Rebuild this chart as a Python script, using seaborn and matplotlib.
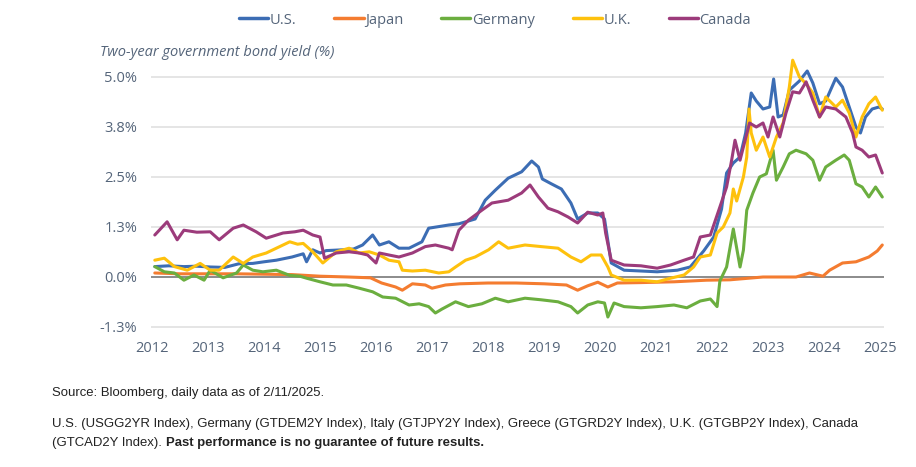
import numpy as np
import pandas as pd
import seaborn as sns
import matplotlib.pyplot as plt

# Two-year government bond yields (%)
countries = ['U.S.', 'Japan', 'Germany', 'U.K.', 'Canada']
colors = ['#3c6db4', '#f47c30', '#6bae3f', '#fec10d', '#9c3b7b']

us_t = [2012.05, 2012.3, 2012.57, 2012.8, 2013.04, 2013.3, 2013.55, 2013.8, 2014.0, 2014.22,
        2014.5, 2014.7, 2014.76, 2014.87, 2015.0, 2015.11, 2015.41, 2015.6, 2015.76, 2015.94,
        2016.06, 2016.23, 2016.41, 2016.59, 2016.82, 2016.94, 2017.12, 2017.3, 2017.48, 2017.65,
        2017.77, 2017.95, 2018.13, 2018.36, 2018.6, 2018.78, 2018.9, 2018.97, 2019.13, 2019.31,
        2019.48, 2019.6, 2019.78, 2019.96, 2020.08, 2020.2, 2020.43, 2020.73, 2021.02, 2021.38,
        2021.61, 2021.85, 2022.03, 2022.17, 2022.26, 2022.38, 2022.5, 2022.6, 2022.7, 2022.79,
        2022.91, 2023.03, 2023.1, 2023.18, 2023.27, 2023.38, 2023.56, 2023.7, 2023.8, 2023.92,
        2024.03, 2024.21, 2024.33, 2024.45, 2024.57, 2024.65, 2024.74, 2024.86, 2024.98, 2025.04]
us_y = [0.26, 0.28, 0.26, 0.27, 0.25, 0.24, 0.33, 0.34, 0.38, 0.42,
        0.5, 0.58, 0.38, 0.68, 0.6, 0.66, 0.68, 0.7, 0.8, 1.05,
        0.8, 0.88, 0.72, 0.72, 0.88, 1.22, 1.26, 1.3, 1.33, 1.4,
        1.45, 1.92, 2.17, 2.47, 2.63, 2.9, 2.75, 2.45, 2.33, 2.2,
        1.85, 1.45, 1.6, 1.6, 1.45, 0.35, 0.17, 0.15, 0.13, 0.17,
        0.25, 0.65, 1.0, 1.7, 2.6, 2.85, 3.0, 3.6, 4.6, 4.4,
        4.2, 4.25, 4.95, 4.0, 4.05, 4.67, 4.9, 5.15, 4.85, 4.33,
        4.4, 4.97, 4.75, 4.25, 3.75, 3.6, 4.0, 4.2, 4.25, 4.2]

jp_t = [2012.05, 2012.5, 2013.0, 2013.5, 2014.0, 2014.5, 2015.0, 2015.5, 2015.9, 2016.1,
        2016.35, 2016.47, 2016.65, 2016.88, 2017.0, 2017.24, 2017.5, 2018.0, 2018.5, 2019.0,
        2019.4, 2019.6, 2019.78, 2019.96, 2020.14, 2020.31, 2020.73, 2021.32, 2021.9, 2022.32,
        2022.91, 2023.5, 2023.74, 2023.98, 2024.1, 2024.33, 2024.57, 2024.8, 2024.95, 2025.04]
jp_y = [0.1, 0.08, 0.08, 0.08, 0.07, 0.06, 0.02, 0.0, -0.02, -0.15,
        -0.25, -0.33, -0.17, -0.2, -0.28, -0.2, -0.17, -0.15, -0.15, -0.17,
        -0.2, -0.33, -0.22, -0.13, -0.25, -0.15, -0.14, -0.12, -0.08, -0.07,
        0.0, 0.0, 0.1, 0.02, 0.17, 0.35, 0.38, 0.5, 0.65, 0.8]

de_t = [2012.05, 2012.22, 2012.4, 2012.57, 2012.75, 2012.93, 2013.04, 2013.27, 2013.51, 2013.63,
        2013.8, 2013.98, 2014.22, 2014.46, 2014.64, 2014.76, 2015.0, 2015.23, 2015.47, 2015.7,
        2015.94, 2016.12, 2016.35, 2016.59, 2016.77, 2016.94, 2017.06, 2017.18, 2017.42, 2017.65,
        2017.89, 2018.13, 2018.36, 2018.66, 2018.95, 2019.25, 2019.48, 2019.6, 2019.78, 2019.96,
        2020.08, 2020.14, 2020.25, 2020.43, 2020.73, 2021.02, 2021.32, 2021.55, 2021.79, 2021.97,
        2022.09, 2022.14, 2022.26, 2022.38, 2022.5, 2022.56, 2022.62, 2022.73, 2022.85, 2022.97,
        2023.09, 2023.15, 2023.27, 2023.38, 2023.5, 2023.68, 2023.8, 2023.92, 2024.03, 2024.21,
        2024.36, 2024.45, 2024.57, 2024.68, 2024.8, 2024.92, 2025.04]
de_y = [0.26, 0.13, 0.1, -0.08, 0.05, -0.08, 0.17, -0.02, 0.1, 0.3,
        0.17, 0.13, 0.17, 0.04, 0.02, -0.03, -0.12, -0.2, -0.2, -0.28,
        -0.37, -0.5, -0.53, -0.7, -0.67, -0.74, -0.9, -0.8, -0.62, -0.74,
        -0.67, -0.53, -0.62, -0.53, -0.57, -0.62, -0.74, -0.9, -0.7, -0.62,
        -0.65, -1.0, -0.65, -0.74, -0.77, -0.74, -0.7, -0.77, -0.6, -0.55,
        -0.74, -0.1, 0.25, 1.2, 0.25, 0.67, 1.67, 2.1, 2.5, 2.58,
        3.17, 2.42, 2.75, 3.08, 3.17, 3.08, 2.92, 2.42, 2.75, 2.92,
        3.05, 2.92, 2.33, 2.25, 2.0, 2.25, 2.0]

uk_t = [2012.05, 2012.22, 2012.4, 2012.63, 2012.86, 2013.04, 2013.2, 2013.45, 2013.63, 2013.8,
        2014.04, 2014.28, 2014.46, 2014.6, 2014.7, 2014.87, 2015.05, 2015.29, 2015.52, 2015.7,
        2015.88, 2016.06, 2016.23, 2016.41, 2016.47, 2016.65, 2016.88, 2017.12, 2017.3, 2017.42,
        2017.6, 2017.77, 2018.01, 2018.19, 2018.36, 2018.66, 2018.95, 2019.25, 2019.48, 2019.66,
        2019.84, 2020.02, 2020.14, 2020.2, 2020.43, 2020.73, 2021.02, 2021.26, 2021.5, 2021.67,
        2021.79, 2021.97, 2022.09, 2022.2, 2022.32, 2022.38, 2022.44, 2022.56, 2022.62, 2022.66,
        2022.7, 2022.79, 2022.91, 2023.03, 2023.15, 2023.27, 2023.38, 2023.44, 2023.56, 2023.68,
        2023.8, 2023.92, 2024.03, 2024.21, 2024.33, 2024.45, 2024.57, 2024.68, 2024.8, 2024.92,
        2025.04]
uk_y = [0.42, 0.47, 0.26, 0.17, 0.34, 0.17, 0.17, 0.5, 0.34, 0.5,
        0.6, 0.76, 0.88, 0.82, 0.84, 0.63, 0.35, 0.63, 0.72, 0.6,
        0.63, 0.55, 0.42, 0.38, 0.17, 0.15, 0.17, 0.1, 0.13, 0.25,
        0.42, 0.5, 0.68, 0.88, 0.72, 0.8, 0.76, 0.72, 0.5, 0.38,
        0.55, 0.55, 0.25, 0.05, -0.08, -0.08, -0.12, -0.03, 0.05, 0.25,
        0.5, 0.55, 1.1, 1.25, 1.6, 2.2, 1.9, 2.5, 3.0, 4.2,
        3.6, 3.17, 3.5, 3.0, 3.5, 3.85, 4.75, 5.42, 5.0, 4.83,
        4.6, 4.0, 4.5, 4.25, 4.42, 4.1, 3.5, 4.0, 4.33, 4.5,
        4.17]

ca_t = [2012.05, 2012.27, 2012.45, 2012.57, 2012.8, 2013.04, 2013.2, 2013.45, 2013.63, 2013.86,
        2014.04, 2014.34, 2014.55, 2014.7, 2014.87, 2015.0, 2015.08, 2015.29, 2015.52, 2015.7,
        2015.85, 2016.0, 2016.06, 2016.23, 2016.41, 2016.65, 2016.88, 2017.06, 2017.3, 2017.36,
        2017.48, 2017.65, 2017.89, 2018.07, 2018.36, 2018.6, 2018.75, 2018.9, 2019.07, 2019.25,
        2019.43, 2019.6, 2019.78, 2019.96, 2020.05, 2020.1, 2020.2, 2020.43, 2020.73, 2021.02,
        2021.26, 2021.5, 2021.67, 2021.79, 2021.97, 2022.14, 2022.26, 2022.35, 2022.41, 2022.5,
        2022.56, 2022.67, 2022.79, 2022.91, 2023.0, 2023.09, 2023.21, 2023.32, 2023.44, 2023.56,
        2023.68, 2023.8, 2023.92, 2024.03, 2024.21, 2024.39, 2024.51, 2024.57, 2024.68, 2024.8,
        2024.92, 2025.04]
ca_y = [1.05, 1.38, 0.93, 1.17, 1.12, 1.13, 0.93, 1.22, 1.3, 1.13,
        0.97, 1.1, 1.13, 1.17, 1.05, 1.0, 0.47, 0.6, 0.63, 0.6,
        0.55, 0.35, 0.6, 0.55, 0.5, 0.6, 0.76, 0.8, 0.72, 0.68,
        1.17, 1.42, 1.67, 1.85, 1.92, 2.1, 2.3, 2.0, 1.72, 1.63,
        1.5, 1.35, 1.62, 1.55, 1.6, 1.1, 0.42, 0.3, 0.28, 0.22,
        0.3, 0.42, 0.5, 1.0, 1.05, 1.75, 2.25, 2.92, 3.42, 2.92,
        3.25, 3.85, 3.75, 3.85, 3.5, 4.0, 3.5, 4.1, 4.63, 4.6,
        4.88, 4.42, 4.0, 4.25, 4.2, 4.0, 3.6, 3.25, 3.17, 3.0,
        3.05, 2.6]

year_ticks = list(range(2012, 2026))
ytick_values = [-1.25, 0.0, 1.25, 2.5, 3.75, 5.0]
ytick_labels = ['-1.3%', '0.0%', '1.3%', '2.5%', '3.8%', '5.0%']

frames = []
for name, t, y in zip(countries, [us_t, jp_t, de_t, uk_t, ca_t], [us_y, jp_y, de_y, uk_y, ca_y]):
    frames.append(pd.DataFrame({'Year': t, 'Yield': y, 'Country': name}))
data = pd.concat(frames, ignore_index=True)

sns.set_style('white')
plt.rcParams['font.family'] = ['Open Sans', 'DejaVu Sans']
text_color = '#55657a'

fig = plt.figure(figsize=(9.16, 4.67), dpi=100)
ax = fig.add_axes([151 / 916, 1 - 329 / 467, 733 / 916, 276 / 467])

sns.lineplot(data=data, x='Year', y='Yield', hue='Country', hue_order=countries,
             palette=dict(zip(countries, colors)), estimator=None, sort=False,
             linewidth=2.2, ax=ax)

ax.axhline(0, color='#8c8c8c', lw=1.4, zorder=1.5)
ax.set_xlim(2012 - 1 / 56.08, 2012 + 733 / 56.08)
ax.set_ylim(-1.3, 5.6)
ax.set_xticks(year_ticks)
ax.set_yticks(ytick_values)
ax.set_yticklabels(ytick_labels)
ax.yaxis.grid(True, color='#e3e3e3', lw=1.3)
ax.set_axisbelow(True)
for s in ax.spines.values():
    s.set_visible(False)
ax.tick_params(length=0, labelsize=10.5, colors=text_color)
ax.tick_params(axis='y', pad=10)
ax.tick_params(axis='x', pad=9)
ax.set_xlabel('')
ax.set_ylabel('')

handles, labels = ax.get_legend_handles_labels()
ax.get_legend().remove()
for h in handles:
    h.set_linewidth(2.5)
fig.legend(handles, labels, loc='center', bbox_to_anchor=(495 / 916, 1 - 20 / 467),
           ncol=5, frameon=False, fontsize=10.5, handlelength=2.0, handletextpad=0.1,
           columnspacing=2.6, labelcolor=text_color)

fig.text(100 / 916, 1 - 52 / 467, 'Two-year government bond yield (%)', style='italic',
         fontsize=10.5, color=text_color, va='center', ha='left')

# footer notes
foot = ['Liberation Sans', 'DejaVu Sans']
foot_size = 9.45
fig.text(52 / 916, 1 - 393 / 467, 'Source: Bloomberg, daily data as of 2/11/2025.',
         family=foot, fontsize=foot_size, color='#222222', va='center')
fig.text(52 / 916, 1 - 424 / 467,
         'U.S. (USGG2YR Index), Germany (GTDEM2Y Index), Italy (GTJPY2Y Index), '
         'Greece (GTGRD2Y Index), U.K. (GTGBP2Y Index), Canada',
         family=foot, fontsize=foot_size, color='#222222', va='center')
t3 = fig.text(52 / 916, 1 - 443 / 467, '(GTCAD2Y Index). ',
              family=foot, fontsize=foot_size, color='#222222', va='center')
fig.canvas.draw()
bb = t3.get_window_extent()
fig.text(bb.x1 / fig.bbox.width, 1 - 443 / 467,
         'Past performance is no guarantee of future results.',
         family=foot, fontsize=foot_size, fontweight='bold', color='#222222', va='center')

fig.savefig('out.png', dpi=100)
